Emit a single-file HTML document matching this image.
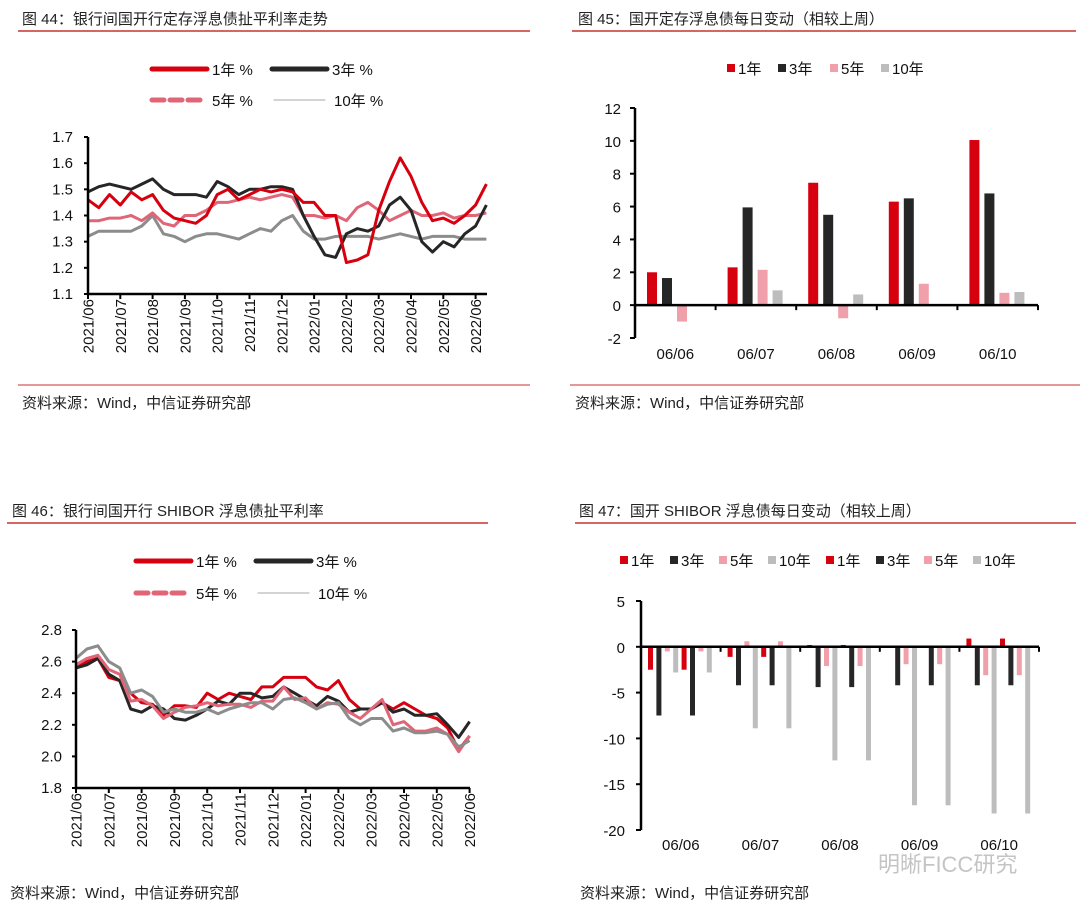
<!DOCTYPE html>
<html><head><meta charset="utf-8"><style>
body{margin:0;background:#fff;}
svg{display:block;font-family:"Liberation Sans","Noto Sans CJK SC",sans-serif;}
.t{font-size:15px;fill:#222;}
</style></head><body>
<svg id="s" width="1080" height="912" viewBox="0 0 1080 912">
<text class="t" x="22" y="24">图 44：银行间国开行定存浮息债扯平利率走势</text>
<line x1="18" y1="31" x2="530" y2="31" stroke="#c8332f" stroke-width="1.5"/>
<text class="t" x="578" y="24">图 45：国开定存浮息债每日变动（相较上周）</text>
<line x1="572" y1="31" x2="1076" y2="31" stroke="#c8332f" stroke-width="1.5"/>
<text class="t" x="12" y="516">图 46：银行间国开行 SHIBOR 浮息债扯平利率</text>
<line x1="7" y1="523" x2="488" y2="523" stroke="#c8332f" stroke-width="1.5"/>
<text class="t" x="579" y="516">图 47：国开 SHIBOR 浮息债每日变动（相较上周）</text>
<line x1="575" y1="523" x2="1076" y2="523" stroke="#c8332f" stroke-width="1.5"/>
<line x1="18" y1="385" x2="530" y2="385" stroke="#c8332f" stroke-width="1"/>
<line x1="570" y1="385" x2="1080" y2="385" stroke="#c8332f" stroke-width="1"/>
<text class="t" x="22" y="408">资料来源：Wind，中信证券研究部</text>
<text class="t" x="575" y="408">资料来源：Wind，中信证券研究部</text>
<text class="t" x="10" y="898">资料来源：Wind，中信证券研究部</text>
<text class="t" x="580" y="898">资料来源：Wind，中信证券研究部</text>
<text x="878" y="872" font-size="22" fill="#c4c4c4">明晰FICC研究</text>
<g id="g44"></g><g id="g45"></g><g id="g46"></g><g id="g47"></g>
</svg>
<script>
const monthLabels=["2021/06","2021/07","2021/08","2021/09","2021/10","2021/11","2021/12","2022/01","2022/02","2022/03","2022/04","2022/05","2022/06"];
const c44_1y=[1.46,1.43,1.48,1.44,1.49,1.46,1.48,1.42,1.39,1.38,1.37,1.40,1.48,1.50,1.46,1.48,1.50,1.49,1.50,1.49,1.45,1.45,1.40,1.40,1.22,1.23,1.25,1.42,1.53,1.62,1.55,1.45,1.38,1.39,1.37,1.40,1.44,1.52];
const c44_3y=[1.49,1.51,1.52,1.51,1.50,1.52,1.54,1.50,1.48,1.48,1.48,1.47,1.53,1.51,1.48,1.50,1.50,1.51,1.51,1.50,1.40,1.32,1.25,1.24,1.33,1.35,1.34,1.36,1.44,1.47,1.42,1.30,1.26,1.30,1.28,1.33,1.36,1.44];
const c44_5y=[1.38,1.38,1.39,1.39,1.40,1.38,1.41,1.37,1.36,1.40,1.40,1.42,1.45,1.45,1.46,1.47,1.46,1.47,1.48,1.47,1.40,1.40,1.39,1.40,1.38,1.43,1.45,1.42,1.38,1.40,1.42,1.40,1.40,1.41,1.39,1.40,1.40,1.41];
const c44_10y=[1.32,1.34,1.34,1.34,1.34,1.36,1.40,1.33,1.32,1.30,1.32,1.33,1.33,1.32,1.31,1.33,1.35,1.34,1.38,1.40,1.34,1.31,1.31,1.32,1.32,1.32,1.32,1.31,1.32,1.33,1.32,1.31,1.32,1.32,1.32,1.31,1.31,1.31];
const c44_ticks=[1.1,1.2,1.3,1.4,1.5,1.6,1.7];
const c46_1y=[2.56,2.60,2.62,2.50,2.48,2.40,2.34,2.33,2.26,2.32,2.32,2.31,2.40,2.36,2.40,2.38,2.36,2.44,2.44,2.50,2.50,2.50,2.44,2.42,2.48,2.36,2.30,2.30,2.34,2.30,2.34,2.30,2.26,2.24,2.18,2.04,2.13];
const c46_3y=[2.56,2.58,2.62,2.52,2.48,2.30,2.28,2.32,2.30,2.24,2.23,2.26,2.30,2.35,2.33,2.40,2.40,2.37,2.38,2.44,2.40,2.36,2.32,2.38,2.35,2.28,2.30,2.30,2.34,2.28,2.30,2.26,2.26,2.27,2.20,2.12,2.22];
const c46_5y=[2.58,2.62,2.64,2.55,2.52,2.35,2.36,2.32,2.24,2.28,2.31,2.32,2.34,2.32,2.33,2.33,2.31,2.35,2.35,2.44,2.36,2.37,2.30,2.34,2.33,2.28,2.24,2.30,2.36,2.20,2.22,2.16,2.16,2.18,2.14,2.03,2.13];
const c46_10y=[2.62,2.68,2.70,2.60,2.56,2.40,2.42,2.38,2.28,2.30,2.28,2.28,2.30,2.27,2.30,2.32,2.34,2.34,2.30,2.36,2.37,2.34,2.30,2.33,2.34,2.24,2.20,2.24,2.24,2.16,2.18,2.15,2.15,2.16,2.14,2.06,2.10];
const c46_ticks=[1.8,2.0,2.2,2.4,2.6,2.8];
const c45_cats=["06/06","06/07","06/08","06/09","06/10"];
const c45_1y=[2.0,2.3,7.45,6.3,10.05];
const c45_3y=[1.65,5.95,5.5,6.5,6.8];
const c45_5y=[-1.0,2.15,-0.8,1.3,0.75];
const c45_10y=[0,0.9,0.65,0,0.8];
const c45_ticks=[-2,0,2,4,6,8,10,12];
const c47_cats=["06/06","06/07","06/08","06/09","06/10"];
const c47_1y=[-2.5,-1.1,0.2,0,0.9];
const c47_3y=[-7.5,-4.2,-4.4,-4.2,-4.2];
const c47_5y=[-0.5,0.6,-2.1,-1.9,-3.1];
const c47_10y=[-2.8,-8.9,-12.4,-17.3,-18.2];
const c47_ticks=[-20,-15,-10,-5,0,5];

const NS="http://www.w3.org/2000/svg";
function mk(p,tag,at){const e=document.createElementNS(NS,tag);for(const k in at)e.setAttribute(k,at[k]);p.appendChild(e);return e;}
const RED="#d7000f",BLK="#262626",PNK="#e06577",GRY="#8c8c8c",PNKB="#f0a0aa",GRYB="#bdbdbd";

function lineChart(g,pre,ax,series,ticks,leg){
  const {x0,x1,yT,yB,vT,vB,mw,lx,dec}=ax;
  const Y=v=>yB-(v-vB)/(vT-vB)*(yB-yT);
  const X=t=>x0+t*mw;
  ticks.forEach(v=>{
    const t=mk(g,'text',{x:lx,y:Y(v)+5,'text-anchor':'end','font-size':15,fill:'#111'});t.textContent=v.toFixed(dec);
    
    
    const l=mk(g,'line',{x1:x0-4,x2:x0,y1:Y(v),y2:Y(v),stroke:'#000','stroke-width':2});
    
    
  });
  monthLabels.forEach((m,i)=>{
    const x=X(i);
    const l=mk(g,'line',{x1:x,x2:x,y1:yB,y2:yB+5,stroke:'#000','stroke-width':2});
    
    
    const t=mk(g,'text',{x:0,y:0,'text-anchor':'end','font-size':15,fill:'#111',transform:`translate(${x+5.5},${yB+5}) rotate(-90)`});t.textContent=m;
    
    
  });
  series.forEach(s=>{
    const d=s.data.map((v,i)=>(i?'L':'M')+X(i/3).toFixed(1)+','+Y(v).toFixed(1)).join('');
    const p=mk(g,'path',{d,fill:'none',stroke:s.c,'stroke-width':3,'stroke-linejoin':'round'});
    
    
  });
  const a=mk(g,'path',{d:`M${x0},${yT}V${yB}H${x1}`,fill:'none',stroke:'#000','stroke-width':2.5});
  
  
  const L=leg;
  const items=[
    {x1:L.a,x2:L.a+55,y:L.y1,c:RED,w:5,tx:L.a+60,t:'1年 %',n:'1y'},
    {x1:L.b,x2:L.b+55,y:L.y1,c:BLK,w:5,tx:L.b+60,t:'3年 %',n:'3y'},
    {x1:L.a,x2:L.a+50,y:L.y2,c:PNK,w:5,tx:L.a+60,t:'5年 %',n:'5y',dash:'12 6'},
    {x1:L.b+2,x2:L.b+53,y:L.y2,c:'#bbb',w:1.2,tx:L.b+62,t:'10年 %',n:'10y'}];
  items.forEach(it=>{
    const gg=mk(g,'g',{});
    
    
    const ln=mk(gg,'line',{x1:it.x1,x2:it.x2,y1:it.y,y2:it.y,stroke:it.c,'stroke-width':it.w,'stroke-linecap':'round'});
    if(it.dash)ln.setAttribute('stroke-dasharray',it.dash);
    const t=mk(gg,'text',{x:it.tx,y:it.y+6,'font-size':15,fill:'#111'});t.textContent=it.t;
  });
}
lineChart(document.getElementById('g44'),'chart44',{x0:88,x1:487,yT:137,yB:294,vT:1.7,vB:1.1,mw:32.3,lx:73,dec:1},
 [{n:'10y',c:GRY,data:c44_10y},{n:'5y',c:PNK,data:c44_5y},{n:'3y',c:BLK,data:c44_3y},{n:'1y',c:RED,data:c44_1y}],c44_ticks,{a:152,b:272,y1:69,y2:100});
lineChart(document.getElementById('g46'),'chart46',{x0:76,x1:470,yT:630,yB:788,vT:2.8,vB:1.8,mw:32.8,lx:62,dec:1},
 [{n:'1y',c:RED,data:c46_1y},{n:'3y',c:BLK,data:c46_3y},{n:'5y',c:PNK,data:c46_5y},{n:'10y',c:GRY,data:c46_10y}],c46_ticks,{a:136,b:256,y1:561,y2:593});

function barChart(g,pre,ax,cats,series,ticks,legend){
  const {x0,x1,yT,yB,vT,vB,off,step,bw,lx,cy}=ax;
  const Y=v=>yB-(v-vB)/(vT-vB)*(yB-yT);
  const gw=(x1-x0)/cats.length;
  ticks.forEach(v=>{
    const t=mk(g,'text',{x:lx,y:Y(v)+6,'text-anchor':'end','font-size':15,fill:'#111'});t.textContent=v;
    
    
    const l=mk(g,'line',{x1:x0-5,x2:x0,y1:Y(v),y2:Y(v),stroke:'#000','stroke-width':2});
    
    
  });
  cats.forEach((c,i)=>{
    series.forEach((s,k)=>{
      const v=s.data[i];if(v===0)return;
      const x=x0+i*gw+off+k*step;
      const r=mk(g,'rect',{x,y:Math.min(Y(v),Y(0)),width:bw,height:Math.abs(Y(v)-Y(0)),fill:s.c});
      
      
    });
    const t=mk(g,'text',{x:x0+(i+0.5)*gw,y:cy,'text-anchor':'middle','font-size':15,fill:'#111'});t.textContent=c;
    
    
    const m=mk(g,'line',{x1:x0+(i+1)*gw,x2:x0+(i+1)*gw,y1:Y(0),y2:Y(0)+5,stroke:'#000','stroke-width':2});
    
    
  });
  const a=mk(g,'line',{x1:x0,x2:x0,y1:yT,y2:yB,stroke:'#000','stroke-width':2.5});
  
  
  const b=mk(g,'line',{x1:x0,x2:x1,y1:Y(0),y2:Y(0),stroke:'#000','stroke-width':2.5});
  
  
  legend.forEach(L=>{
    const gg=mk(g,'g',{});
    
    
    mk(gg,'rect',{x:L.x,y:L.y-5,width:8,height:8,fill:L.c});
    const t=mk(gg,'text',{x:L.x+11,y:L.y+5,'font-size':15,fill:'#111'});t.textContent=L.t;
  });
}
barChart(document.getElementById('g45'),'chart45',{x0:635,x1:1038,yT:108,yB:338,vT:12,vB:-2,off:12,step:15,bw:10,lx:621,cy:359},c45_cats,
 [{n:'1y',c:RED,data:c45_1y},{n:'3y',c:BLK,data:c45_3y},{n:'5y',c:PNKB,data:c45_5y},{n:'10y',c:GRYB,data:c45_10y}],c45_ticks,
 [{x:727,y:69,c:RED,t:'1年',n:'1y'},{x:778,y:69,c:BLK,t:'3年',n:'3y'},{x:830,y:69,c:PNKB,t:'5年',n:'5y'},{x:881,y:69,c:GRYB,t:'10年',n:'10y'}]);
barChart(document.getElementById('g47'),'chart47',{x0:641,x1:1039,yT:601,yB:830,vT:5,vB:-20,off:7,step:8.4,bw:5,lx:625,cy:850},c47_cats,
 [{n:'1y-a',c:RED,data:c47_1y},{n:'3y-a',c:BLK,data:c47_3y},{n:'5y-a',c:PNKB,data:c47_5y},{n:'10y-a',c:GRYB,data:c47_10y},
  {n:'1y-b',c:RED,data:c47_1y},{n:'3y-b',c:BLK,data:c47_3y},{n:'5y-b',c:PNKB,data:c47_5y},{n:'10y-b',c:GRYB,data:c47_10y}],c47_ticks,
 [{x:620,y:561,c:RED,t:'1年',n:'1y-a'},{x:670,y:561,c:BLK,t:'3年',n:'3y-a'},{x:719,y:561,c:PNKB,t:'5年',n:'5y-a'},{x:768,y:561,c:GRYB,t:'10年',n:'10y-a'},
  {x:826,y:561,c:RED,t:'1年',n:'1y-b'},{x:876,y:561,c:BLK,t:'3年',n:'3y-b'},{x:924,y:561,c:PNKB,t:'5年',n:'5y-b'},{x:973,y:561,c:GRYB,t:'10年',n:'10y-b'}]);
</script>
</body></html>
